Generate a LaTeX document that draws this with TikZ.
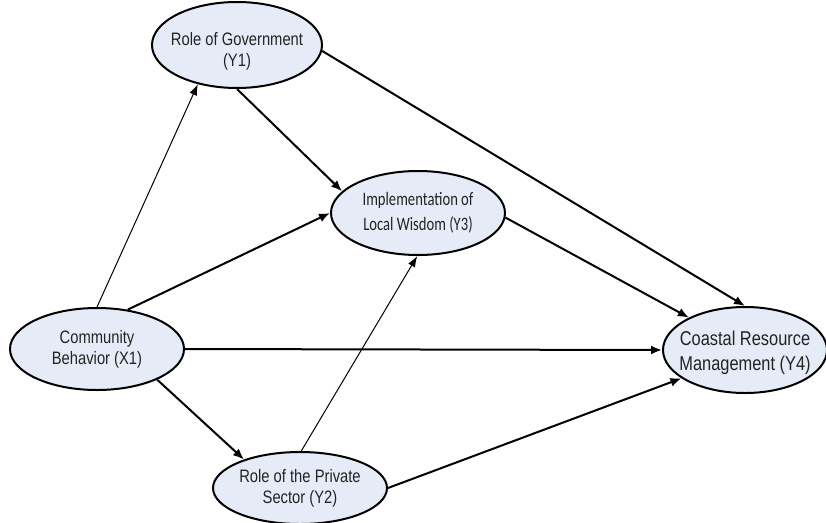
\documentclass[tikz,border=0pt]{standalone}
\usepackage{fontspec}
\setmainfont{Liberation Sans}[FakeStretch=0.82]
\newfontfamily\calfont{Carlito}[FakeStretch=0.77]
\usetikzlibrary{shapes.geometric,arrows.meta}
\definecolor{efill}{RGB}{230,236,247}
\definecolor{etext}{RGB}{35,35,35}
\begin{document}
\begin{tikzpicture}[x=1pt,y=1pt,
  var/.style={ellipse,draw=black,line width=2pt,fill=efill,inner sep=0pt},
  lbl/.style={align=center,text=etext,inner sep=0pt,font=\fontsize{18}{21}\selectfont},
  thickarr/.style={line width=2pt,-{Latex[length=11pt,width=9pt]}},
  thinarr/.style={line width=1pt,-{Latex[length=11pt,width=8pt]}}]
\useasboundingbox (0,0) rectangle (826,-522);
\node[var,minimum width=170pt,minimum height=86pt] (Y1) at (237,-45) {};
\node[lbl,yshift=-6pt] (tY1) at (Y1) {Role of Government\\(Y1)};
\node[var,minimum width=174pt,minimum height=84pt] (Y3) at (418,-213) {};
\node[lbl,font=\calfont\fontsize{19}{25}\selectfont] (tY3) at (Y3) {Implementation of\\Local Wisdom (Y3)};
\node[var,minimum width=174pt,minimum height=82pt] (X1) at (97,-349) {};
\node[lbl] (tX1) at (X1) {Community\\Behavior (X1)};
\node[var,minimum width=174pt,minimum height=72pt] (Y2) at (300,-488) {};
\node[lbl] (tY2) at (Y2) {Role of the Private\\Sector (Y2)};
\node[var,minimum width=164pt,minimum height=86pt] (Y4) at (745,-350) {};
\node[lbl,yshift=-3pt,font=\fontsize{20}{25}\selectfont] (tY4) at (Y4) {Coastal Resource\\Management (Y4)};
\draw[thinarr] (X1.90) -- (Y1.-135);
\draw[thickarr] (X1.52) -- (Y3.180);
\draw[thickarr] (X1.0) -- (Y4.180);
\draw[thickarr] (X1.-27) -- (Y2.153);
\draw[thinarr] (Y2.88) -- (Y3.-91);
\draw[thickarr] (Y1.-90) -- (Y3.164);
\draw[thickarr] (Y1.-4) -- (Y4.90);
\draw[thickarr] (Y3.-3) -- (Y4.150);
\draw[thickarr] (Y2.0) -- (Y4.-156);
\end{tikzpicture}
\end{document}
